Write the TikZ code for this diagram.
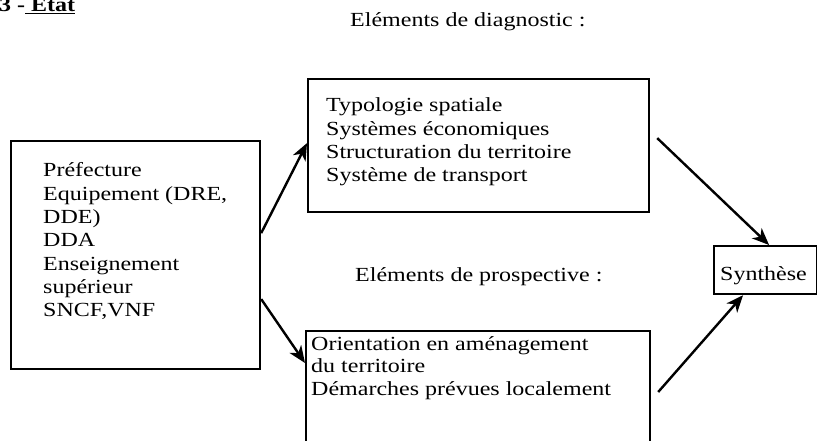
\documentclass[tikz,border=0pt]{standalone}
\usepackage{fontspec}
\setmainfont{Liberation Serif}[FakeStretch=1.2]
\usetikzlibrary{arrows.meta}
\begin{document}
\begin{tikzpicture}[x=1pt,y=-1pt,
  box/.style={draw, line width=2.2pt, inner sep=0pt, anchor=north west},
  txt/.style={anchor=base west, inner sep=0pt, font=\fontsize{20}{23.3}\selectfont},
  arr/.style={line width=2.4pt, -{Stealth[length=17pt,width=14pt,inset=5pt]}}]
\clip (0,0) rectangle (817,441);
% boxes
\node[box, minimum width=249pt, minimum height=228pt] (src) at (10,140) {};
\node[box, minimum width=341pt, minimum height=133pt] (diag) at (307,78) {};
\node[box, minimum width=344pt, minimum height=130pt] (prosp) at (305,330) {};
\node[box, minimum width=103pt, minimum height=48pt] (syn) at (713,245) {};
% title
\node[txt, font=\fontsize{20}{23.3}\selectfont\bfseries] (title) at (-1,12) {3 -\underline{\ Etat}};
% headings
\node[txt] (hdiag) at (350,27) {Eléments de diagnostic :};
\node[txt] (hprosp) at (355,281) {Eléments de prospective :};
% source lines
\node[txt] (s1) at (43,177) {Préfecture};
\node[txt] (s2) at (43,200.3) {Equipement (DRE,};
\node[txt] (s3) at (43,223.6) {DDE)};
\node[txt] (s4) at (43,246.9) {DDA};
\node[txt] (s5) at (43,270.2) {Enseignement};
\node[txt] (s6) at (43,293.5) {supérieur};
\node[txt] (s7) at (43,316.8) {SNCF,VNF};
% diagnostic lines
\node[txt] (d1) at (326,112) {Typologie spatiale};
\node[txt] (d2) at (326,135.3) {Systèmes économiques};
\node[txt] (d3) at (326,158.6) {Structuration du territoire};
\node[txt] (d4) at (326,181.9) {Système de transport};
% prospective lines
\node[txt] (p1) at (311,350) {Orientation en aménagement};
\node[txt] (p2) at (311,372.8) {du territoire};
\node[txt] (p3) at (311,395.6) {Démarches prévues localement};
% synthesis
\node[txt] (syntxt) at (720,280) {Synthèse};
% arrows
\draw[arr] ([yshift=22pt]src.east) -- ([yshift=2.5pt]diag.west);
\draw[arr] ([yshift=-44pt]src.east) -- ([yshift=-33pt]prosp.north west);
\draw[arr] ([xshift=7pt,yshift=7.5pt]diag.east) -- ([xshift=3.5pt]syn.north);
\draw[arr] ([xshift=7pt,yshift=-62pt]prosp.north east) -- ([xshift=-22.5pt]syn.south);
\end{tikzpicture}
\end{document}
